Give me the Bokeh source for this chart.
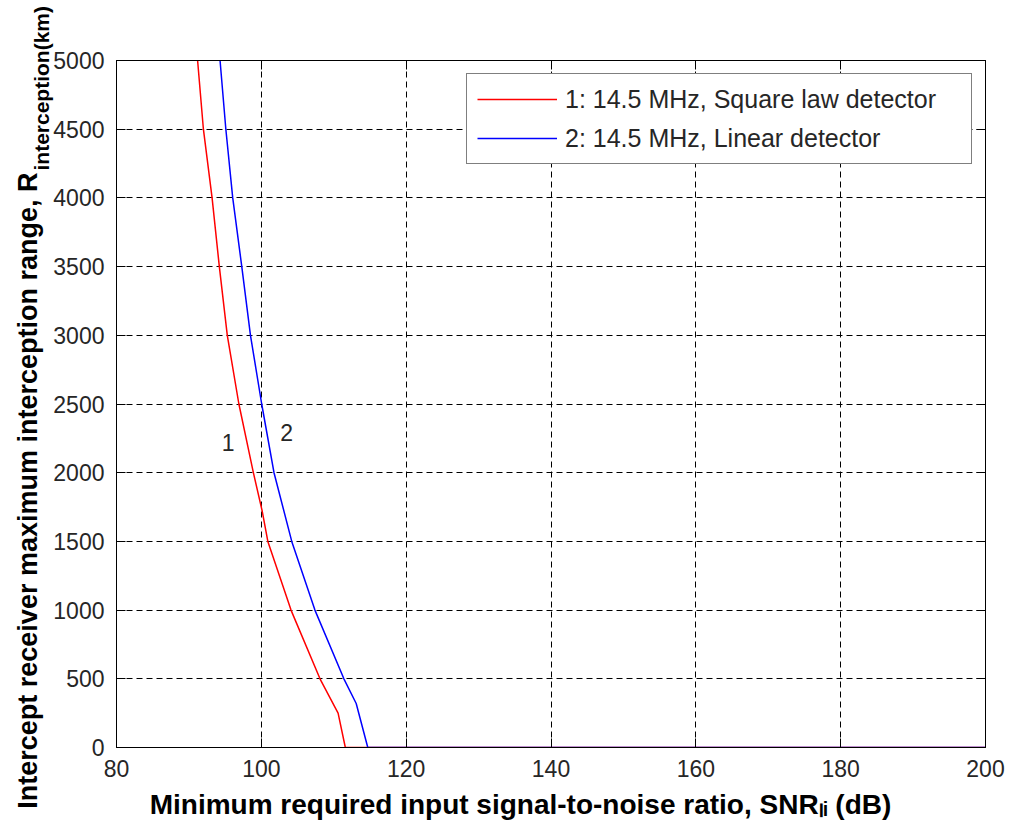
from math import pi
from bokeh.plotting import figure
from bokeh.models import Range1d, FixedTicker, LinearAxis, Label, CustomJSTickFormatter
from bokeh.core.properties import value
from bokeh.embed import file_html
from bokeh.resources import INLINE

# ---------------- data ----------------
x_ticks = [80, 100, 120, 140, 160, 180, 200]
y_ticks = [0, 500, 1000, 1500, 2000, 2500, 3000, 3500, 4000, 4500, 5000]

# curve 1: square law detector
square_law_snr = [91.2, 92.0, 93.2, 94.2, 95.3, 96.9, 98.9, 100.1, 100.9, 104.1, 104.9, 108.1, 110.6, 111.6, 200.0]
square_law_range = [5000, 4500, 4000, 3500, 3000, 2500, 2000, 1725, 1500, 1000, 900, 500, 250, 0, 0]

# curve 2: linear detector
linear_snr = [94.3, 95.1, 96.05, 97.3, 98.5, 100.05, 101.75, 104.2, 107.4, 111.4, 113.1, 114.7, 200.0]
linear_range = [5000, 4500, 4000, 3500, 3000, 2500, 2000, 1500, 1000, 500, 320, 0, 0]

legend_labels = ["1: 14.5 MHz, Square law detector", "2: 14.5 MHz, Linear detector"]
curve_tag_text = ["1", "2"]
curve_tag_snr = [95.4, 103.5]
curve_tag_range = [2220, 2290]

x_title = "Minimum required input signal-to-noise ratio, SNR\u2097\u1d62 (dB)"
y_title_main = "Intercept receiver maximum interception range, R"
y_title_tail = "interception(km)"

FONT = "Liberation Sans"
TXT = "#262626"

p = figure(width=1009, height=820, output_backend="svg", toolbar_location=None,
           x_range=Range1d(80, 200), y_range=Range1d(0, 5000),
           min_border_left=116, min_border_right=24, min_border_top=60, min_border_bottom=73)
p.background_fill_color = "white"
p.border_fill_color = "white"
p.outline_line_color = "black"
p.outline_line_width = 1

for ax, ticks in ((p.xaxis[0], x_ticks), (p.yaxis[0], y_ticks)):
    ax.ticker = FixedTicker(ticks=ticks)
    ax.major_label_text_font = FONT
    ax.major_label_text_font_size = "23px"
    ax.major_label_text_color = TXT
    ax.major_label_standoff = 12
    ax.major_tick_in = 9
    ax.major_tick_out = 0
    ax.major_tick_line_color = "black"
    ax.minor_tick_line_color = None
    ax.axis_line_color = "black"

for loc, ticks in (("right", y_ticks), ("above", x_ticks)):
    ax = LinearAxis(ticker=FixedTicker(ticks=ticks),
                    formatter=CustomJSTickFormatter(code="return ''"),
                    major_label_text_font_size="1px",
                    major_tick_in=9, major_tick_out=0, minor_tick_line_color=None,
                    axis_line_color="black", major_label_standoff=0)
    p.add_layout(ax, loc)

p.xgrid.ticker = FixedTicker(ticks=x_ticks)
p.ygrid.ticker = FixedTicker(ticks=y_ticks)
for g in (p.xgrid[0], p.ygrid[0]):
    g.grid_line_color = "black"
    g.grid_line_alpha = 1.0
    g.grid_line_width = 1
    g.grid_line_dash = "6 4"

p.line(square_law_snr, square_law_range, line_color="#ff0000", line_width=1.5,
       legend_label=legend_labels[0])
p.line(linear_snr, linear_range, line_color="#0000ff", line_width=1.5,
       legend_label=legend_labels[1])

p.text(x=curve_tag_snr, y=curve_tag_range, text=curve_tag_text,
       text_font=value(FONT), text_font_size="23px", text_color=TXT,
       text_align="center", text_baseline="middle")

lg = p.legend[0]
lg.location = "top_right"
lg.margin = 13
lg.padding = 10
lg.spacing = 9
lg.glyph_width = 80
lg.glyph_height = 30
lg.label_height = 30
lg.label_width = 396
lg.label_standoff = 8
lg.label_text_font = FONT
lg.label_text_font_size = "25px"
lg.label_text_color = TXT
lg.border_line_color = "black"
lg.border_line_width = 1
lg.background_fill_color = "white"
lg.background_fill_alpha = 1.0

# ---------- axis titles placed in side panels ----------
def lab(text, x, y, size, align, angle=0.0):
    return Label(x=x, y=y, x_units="screen", y_units="screen", angle=angle,
                 text=text, text_font=FONT, text_font_size=size, text_font_style="bold",
                 text_color="black", text_align=align, text_baseline="alphabetic")

p.add_layout(lab(x_title, 404, 6, "28px", "center"), "below")
p.add_layout(lab(y_title_main, 7, 575, "27px", "right", pi / 2), "left")
p.add_layout(lab(y_title_tail, -944, 577, "21px", "left", pi / 2), "right")

open("out.html", "w").write(file_html(p, INLINE))
